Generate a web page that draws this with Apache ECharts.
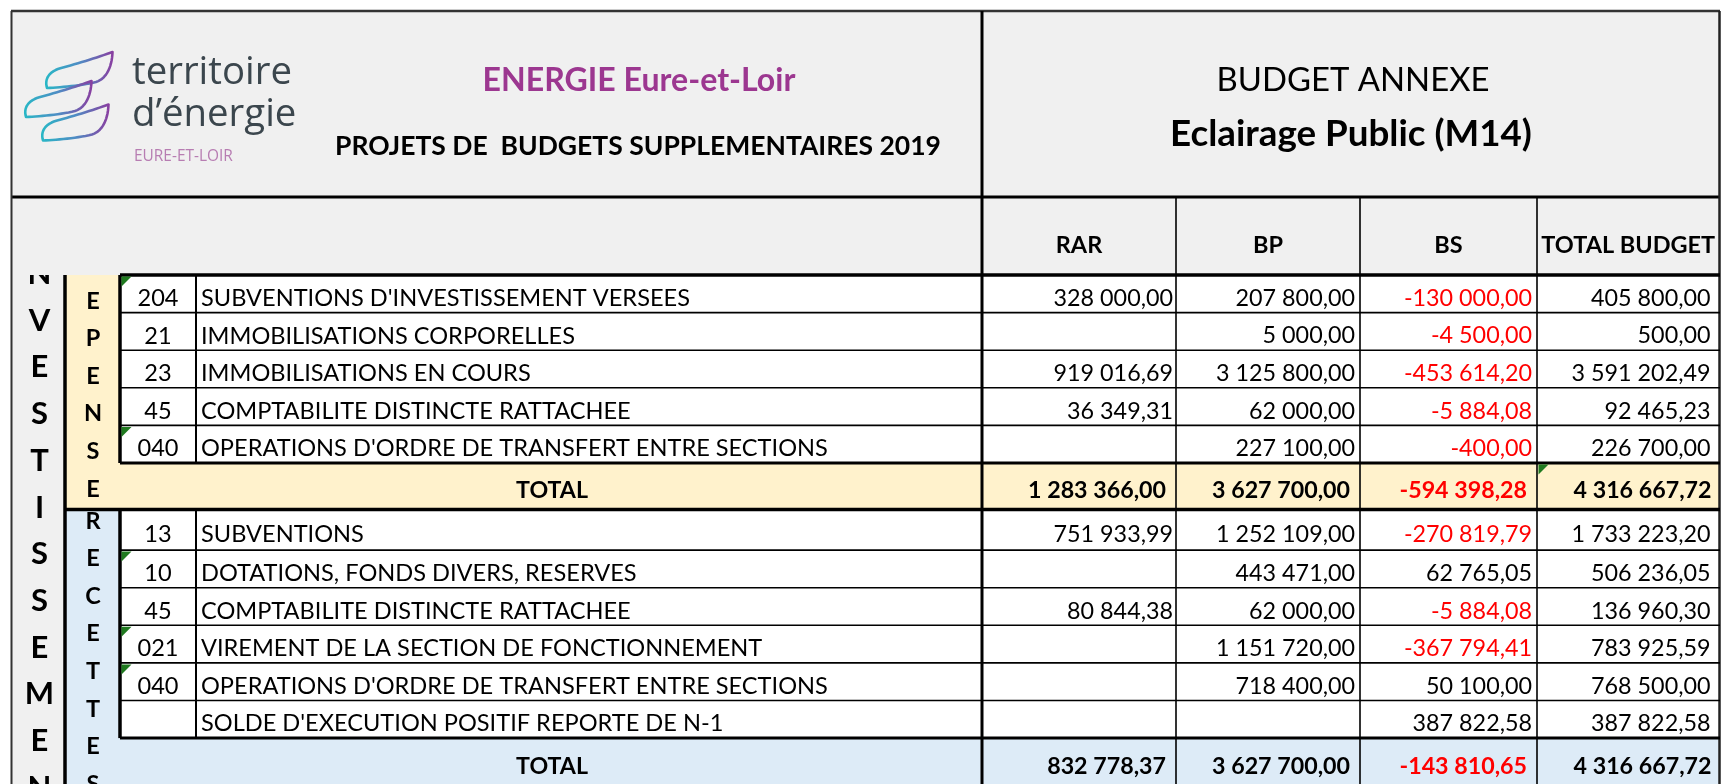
<!DOCTYPE html>
<html><head><meta charset="utf-8">
<script src="https://cdn.jsdelivr.net/npm/echarts@6/dist/echarts.min.js"></script>
<style>html,body{margin:0;padding:0;background:#fff}#c{width:1722px;height:784px}</style>
</head><body><div id="c"></div>
<script>
// ---------------- DATA ----------------
const titleOrg = 'ENERGIE Eure-et-Loir';
const titleDoc = 'PROJETS DE  BUDGETS SUPPLEMENTAIRES 2019';
const titleBudget = 'BUDGET ANNEXE';
const titleBudgetName = 'Eclairage Public (M14)';
const logoLines = ['territoire', 'd’énergie'];
const logoSub = 'EURE-ET-LOIR';
const columns = ['RAR', 'BP', 'BS', 'TOTAL BUDGET'];
const sectionLabel = 'INVESTISSEMENT';
const depLabel = 'DEPENSES';
const recLabel = 'RECETTES';
const totalLabel = 'TOTAL';

const depCodes = ['204', '21', '23', '45', '040'];
const depNames = ["SUBVENTIONS D'INVESTISSEMENT VERSEES", 'IMMOBILISATIONS CORPORELLES', 'IMMOBILISATIONS EN COURS', 'COMPTABILITE DISTINCTE RATTACHEE', "OPERATIONS D'ORDRE DE TRANSFERT ENTRE SECTIONS"];
const depRAR = [328000.00, null, 919016.69, 36349.31, null];
const depBP = [207800.00, 5000.00, 3125800.00, 62000.00, 227100.00];
const depBS = [-130000.00, -4500.00, -453614.20, -5884.08, -400.00];
const depTOT = [405800.00, 500.00, 3591202.49, 92465.23, 226700.00];
const depSums = [1283366.00, 3627700.00, -594398.28, 4316667.72];

const recCodes = ['13', '10', '45', '021', '040', ''];
const recNames = ['SUBVENTIONS', 'DOTATIONS, FONDS DIVERS, RESERVES', 'COMPTABILITE DISTINCTE RATTACHEE', 'VIREMENT DE LA SECTION DE FONCTIONNEMENT', "OPERATIONS D'ORDRE DE TRANSFERT ENTRE SECTIONS", "SOLDE D'EXECUTION POSITIF REPORTE DE N-1"];
const recRAR = [751933.99, null, 80844.38, null, null, null];
const recBP = [1252109.00, 443471.00, 62000.00, 1151720.00, 718400.00, null];
const recBS = [-270819.79, 62765.05, -5884.08, -367794.41, 50100.00, 387822.58];
const recTOT = [1733223.20, 506236.05, 136960.30, 783925.59, 768500.00, 387822.58];
const recSums = [832778.37, 3627700.00, -143810.65, 4316667.72];

// cells carrying the small green corner marker
const depFlagRows = [0, 4];
const recFlagRows = [1, 3, 4];

// ---------------- LAYOUT / STYLE ----------------
const W = 1722, H = 784;
const FONT = 'Lato, "Open Sans", sans-serif';
const LOGO_FONT = '"Open Sans", Lato, sans-serif';
const colX = { code: 120, nums: [982, 1176, 1360, 1537, 1719.5] };
const depEdges = [0, 1, 2, 3, 4, 5].map(i => 275 + 37.6 * i);
const depTotY = [463, 510];
const recEdges = [510, 1, 2, 3, 4, 5, 6].map((v, i) => i === 0 ? v : 512.5 + 37.6 * i);
const recTotY = [738.1, 790];
const C = { gray: '#f0f0f0', beige: '#fff2cc', blue: '#ddebf7', white: '#ffffff', red: '#ff0000', black: '#000000', purple: '#9c3790', flag: '#1f7a1f' };

const mctx = document.createElement('canvas').getContext('2d');
function fit(str, weight, fam, target) { mctx.font = weight + ' 100px ' + fam; return 100 * target / mctx.measureText(str).width; }
const fsLabel = fit("OPERATIONS D'ORDRE DE TRANSFERT ENTRE SECTIONS", 'normal', FONT, 627);
const fsNum = fit('3 125 800,00', 'normal', FONT, 139);
const fsNumB = fit('3 627 700,00', 'bold', FONT, 138);
const fsTotal = fit(totalLabel, 'bold', FONT, 72);
const fsHead = fit('TOTAL BUDGET', 'bold', FONT, 174);
const fsOrg = fit(titleOrg, 'bold', FONT, 313);
const fsDoc = fit(titleDoc, 'bold', FONT, 606);
const fsBud = fit(titleBudget, 'normal', FONT, 273);
const fsBudN = fit(titleBudgetName, 'bold', FONT, 362);
const fsLogo = fit(logoLines[0], 'normal', LOGO_FONT, 160);
const fsLogoSub = fit(logoSub, 'normal', LOGO_FONT, 99);

function fmt(v) {
  if (v == null) return '';
  const neg = v < 0;
  const parts = Math.abs(v).toFixed(2).split('.');
  const i = parts[0].replace(/\B(?=(\d{3})+(?!\d))/g, ' ');
  return (neg ? '-' : '') + i + ',' + parts[1];
}

// ---------------- BUILD PRIMITIVES ----------------
const fillsA = [], fillsB = [], lettersA = [], lettersB = [], texts = [], lines = [], flags = [];
const R = (arr, x0, y0, x1, y1, fill) => arr.push({ v: [x0, y0, x1, y1], fill });
const T = (x, y, text, o) => texts.push(Object.assign({ v: [x, y], text, size: fsLabel, weight: 'normal', color: C.black, align: 'left', fam: FONT }, o));
const Ln = (x0, y0, x1, y1, w, c) => lines.push({ v: [x0, y0, x1, y1], w, c: c || '#000' });

R(fillsA, 11, 11, 1720, 197, C.gray);
R(fillsA, 11, 197, 65, H, C.gray);
R(fillsA, 65, 275, 120, 510, C.beige);
R(fillsA, 120, 275, 1720, 463, C.white);
R(fillsA, 65, depTotY[0], 1720, depTotY[1], C.beige);
R(fillsB, 11, 197, 1720, 275, C.gray);
R(fillsB, 65, 510, 120, H, C.blue);
R(fillsB, 120, recEdges[0], 1720, recTotY[0], C.white);
R(fillsB, 120, recTotY[0], 1720, H, C.blue);

sectionLabel.split('').forEach((ch, k) => lettersA.push({ v: [39.5, 274 + 46.7 * (k - 1)], ch, size: 31 }));
depLabel.split('').forEach((ch, k) => lettersA.push({ v: [93, 301 + 37.6 * (k - 1)], ch, size: 23.5 }));
recLabel.split('').forEach((ch, k) => lettersB.push({ v: [93, 521 + 37.6 * k], ch, size: 23.5 }));

T(639, 81, titleOrg, { size: fsOrg, weight: 'bold', color: C.purple, align: 'center' });
T(638, 146, titleDoc, { size: fsDoc, weight: 'bold', align: 'center' });
T(1353, 80, titleBudget, { size: fsBud, align: 'center' });
T(1351, 134, titleBudgetName, { size: fsBudN, weight: 'bold', align: 'center' });
T(132, 73, logoLines[0], { size: fsLogo, color: '#3b464d', fam: LOGO_FONT });
T(132, 115, logoLines[1], { size: fsLogo, color: '#3b464d', fam: LOGO_FONT });
T(134, 157, logoSub, { size: fsLogoSub, color: '#b77db2', fam: LOGO_FONT });
columns.forEach((c, j) => T((colX.nums[j] + colX.nums[j + 1]) / 2, 245, c, { size: fsHead, weight: 'bold', align: 'center' }));

const dataPad = [3, 5, 5, 9], totPad = [10, 10, 10, 8];
function block(edges, codes, names, cols, sums, totY, flagRows) {
  codes.forEach((code, i) => {
    const yc = (edges[i] + edges[i + 1]) / 2 + 4.5;
    T(158, yc, code, { align: 'center' });
    T(201, yc, names[i]);
    cols.forEach((arr, j) => {
      const v = arr[i];
      T(colX.nums[j + 1] - dataPad[j], yc, fmt(v), { size: fsNum, align: 'right', color: v < 0 ? C.red : C.black });
    });
  });
  const yt = (totY[0] + Math.min(totY[1], 786)) / 2 + 4;
  T(552, yt, totalLabel, { size: fsTotal, weight: 'bold', align: 'center' });
  sums.forEach((v, j) => T(colX.nums[j + 1] - totPad[j], yt, fmt(v), { size: fsNumB, weight: 'bold', align: 'right', color: v < 0 ? C.red : C.black }));
  flagRows.forEach(i => flags.push({ v: [colX.code + 1.5, edges[i] + 1.5] }));
}
block(depEdges, depCodes, depNames, [depRAR, depBP, depBS, depTOT], depSums, depTotY, depFlagRows);
block(recEdges, recCodes, recNames, [recRAR, recBP, recBS, recTOT], recSums, recTotY, recFlagRows);
flags.push({ v: [colX.nums[3] + 1.5, depTotY[0] + 1.5] });

Ln(11, 11, 1720, 11, 2.5, '#333');
Ln(11, 197, 1720, 197, 3);
Ln(11.5, 11, 11.5, H, 2, '#333');
Ln(1719.5, 11, 1719.5, H, 2.5, '#222');
Ln(982, 11, 982, H, 3);
[1176, 1360, 1537].forEach(x => Ln(x, 197, x, H, 1.6));
Ln(65, 275, 65, H, 3.5);
Ln(120, 275, 1720, 275, 3.5);
[depEdges, recEdges].forEach(e => {
  const top = e[0], bot = e[e.length - 1];
  Ln(120, top, 120, bot, 3.5);
  Ln(196, top, 196, bot, 2);
  for (let i = 1; i < e.length - 1; i++) Ln(120, e[i], 1720, e[i], 1.6);
  Ln(120, bot, 1720, bot, 3);
});
Ln(65, 509.5, 1720, 509.5, 3.5);

// logo swooshes: offsets of three similar strokes
const swooshes = [{ v: [0, 0] }, { v: [-21, 29] }, { v: [-4, 52.5] }];
// outline as cubic segments [p0, c1, c2, p1]
const swooshSegs = [
  [[47, 88], [44, 78], [50, 70.5], [63, 67.5]],
  [[63, 67.5], [80, 63], [100, 56.5], [112.5, 52]],
  [[112.5, 52], [112, 66], [107, 78.5], [96, 82]],
  [[96, 82], [82, 85.5], [60, 87.5], [47, 88]]
];
function sampleSegs(segs, n) {
  const out = [];
  segs.forEach(s => {
    for (let k = 0; k < n; k++) {
      const t = k / n, u = 1 - t;
      out.push([
        u * u * u * s[0][0] + 3 * u * u * t * s[1][0] + 3 * u * t * t * s[2][0] + t * t * t * s[3][0],
        u * u * u * s[0][1] + 3 * u * u * t * s[1][1] + 3 * u * t * t * s[2][1] + t * t * t * s[3][1]
      ]);
    }
  });
  return out;
}
const swooshPts = sampleSegs(swooshSegs, 14);

// ---------------- CHART ----------------
const chart = echarts.init(document.getElementById('c'));
const pt = (api, a, b) => api.coord([api.value(a), api.value(b)]);
const dataOf = list => list.map((d, i) => d.v.concat([i]));
function rectSeries(name, list, z) {
  return {
    type: 'custom', name, z, coordinateSystem: 'cartesian2d', silent: true,
    data: dataOf(list),
    renderItem(p, api) {
      const a = pt(api, 0, 1), b = pt(api, 2, 3), d = list[api.value(4)];
      return { type: 'rect', shape: { x: a[0], y: a[1], width: b[0] - a[0], height: b[1] - a[1] }, style: { fill: d.fill } };
    }
  };
}
function letterSeries(name, list, z) {
  return {
    type: 'custom', name, z, coordinateSystem: 'cartesian2d', silent: true,
    data: dataOf(list),
    renderItem(p, api) {
      const a = pt(api, 0, 1), d = list[api.value(2)];
      return { type: 'text', x: a[0], y: a[1], style: { text: d.ch, fill: '#000', fontSize: d.size, fontWeight: 'bold', fontFamily: FONT, align: 'center', verticalAlign: 'middle' } };
    }
  };
}
const swooshGrad = { type: 'linear', x: 0, y: 0, x2: 1, y2: 0, colorStops: [{ offset: 0, color: '#27b9c6' }, { offset: 0.5, color: '#4f8cc4' }, { offset: 1, color: '#8c3a9e' }], global: false };
const option = {
  animation: false,
  grid: { left: 0, right: 0, top: 0, bottom: 0 },
  xAxis: { type: 'value', min: 0, max: W, show: false },
  yAxis: { type: 'value', min: 0, max: H, inverse: true, show: false },
  series: [
    rectSeries('fillsA', fillsA, 1),
    letterSeries('lettersA', lettersA, 2),
    rectSeries('fillsB', fillsB, 3),
    letterSeries('lettersB', lettersB, 4),
    {
      type: 'custom', name: 'texts', z: 5, coordinateSystem: 'cartesian2d', silent: true,
      data: dataOf(texts),
      renderItem(p, api) {
        const a = pt(api, 0, 1), d = texts[api.value(2)];
        return { type: 'text', x: a[0], y: a[1], style: { text: d.text, fill: d.color, fontSize: d.size, fontWeight: d.weight, fontFamily: d.fam, align: d.align, verticalAlign: 'middle' } };
      }
    },
    {
      type: 'custom', name: 'lines', z: 6, coordinateSystem: 'cartesian2d', silent: true,
      data: dataOf(lines),
      renderItem(p, api) {
        const a = pt(api, 0, 1), b = pt(api, 2, 3), d = lines[api.value(4)];
        return { type: 'line', shape: { x1: a[0], y1: a[1], x2: b[0], y2: b[1] }, style: { stroke: d.c, lineWidth: d.w } };
      }
    },
    {
      type: 'custom', name: 'flags', z: 7, coordinateSystem: 'cartesian2d', silent: true,
      data: dataOf(flags),
      renderItem(p, api) {
        const a = pt(api, 0, 1);
        return { type: 'polygon', shape: { points: [[a[0], a[1]], [a[0] + 10, a[1]], [a[0], a[1] + 10]] }, style: { fill: C.flag } };
      }
    },
    {
      type: 'custom', name: 'logo', z: 8, coordinateSystem: 'cartesian2d', silent: true,
      data: dataOf(swooshes),
      renderItem(p, api) {
        const dx = api.value(0), dy = api.value(1);
        const pts = swooshPts.map(q => api.coord([q[0] + dx, q[1] + dy]));
        return { type: 'polygon', shape: { points: pts }, style: { fill: 'none', lineWidth: 2.6, stroke: swooshGrad, lineJoin: 'round' } };
      }
    }
  ]
};
chart.setOption(option);
</script></body></html>
